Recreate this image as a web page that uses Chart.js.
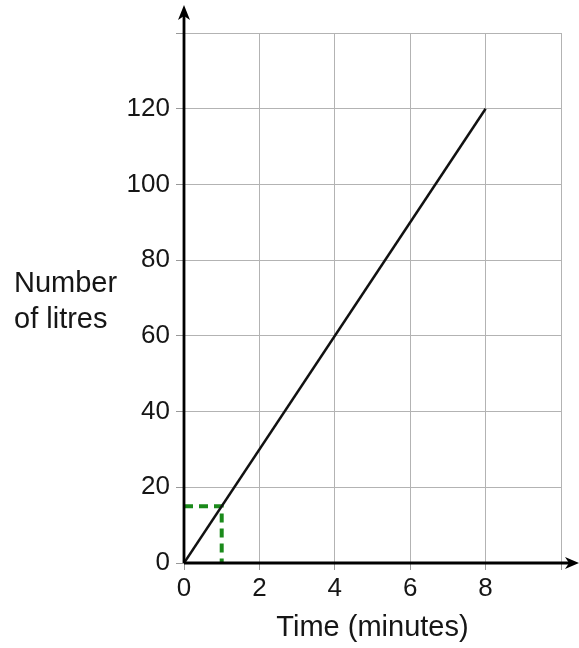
<!DOCTYPE html>
<html>
<head>
<meta charset="utf-8">
<script src="https://cdn.jsdelivr.net/npm/chart.js@4.4.0/dist/chart.umd.min.js"></script>
<style>
  html, body { margin: 0; padding: 0; background: #fff; }
  #wrap { width: 579px; height: 648px; }
</style>
</head>
<body>
<div id="wrap"><canvas id="chart" width="579" height="648"></canvas></div>
<script>
// dados
const timeMinutes = [0, 8];
const litres = [0, 120];
const guideX = [0, 1, 1];
const guideY = [15, 15, 0];

const xMax = 10;
const yMax = 140;
const fontFamily = "'Liberation Sans', Arial, sans-serif";
const tickFont = { family: fontFamily, size: 26 };
const titleFont = { family: fontFamily, size: 29 };
const textColor = '#161616';

const linePoints = timeMinutes.map((t, i) => ({ x: t, y: litres[i] }));
const guidePoints = guideX.map((g, i) => ({ x: g, y: guideY[i] }));

// setas dos eixos + titulo horizontal do eixo y
const axesPlugin = {
  id: 'axesPlugin',
  afterDraw(chart) {
    const ctx = chart.ctx;
    const a = chart.chartArea;
    ctx.save();
    ctx.strokeStyle = '#000';
    ctx.fillStyle = '#000';
    ctx.lineWidth = 2.8;
    // eixo y
    ctx.beginPath();
    ctx.moveTo(a.left, a.bottom);
    ctx.lineTo(a.left, 16);
    ctx.stroke();
    ctx.beginPath();
    ctx.moveTo(a.left, 5);
    ctx.lineTo(a.left - 6, 20);
    ctx.lineTo(a.left, 16);
    ctx.lineTo(a.left + 6, 20);
    ctx.closePath();
    ctx.fill();
    // eixo x
    ctx.beginPath();
    ctx.moveTo(a.left, a.bottom);
    ctx.lineTo(570, a.bottom);
    ctx.stroke();
    ctx.beginPath();
    ctx.moveTo(579, a.bottom);
    ctx.lineTo(565, a.bottom - 6);
    ctx.lineTo(569, a.bottom);
    ctx.lineTo(565, a.bottom + 6);
    ctx.closePath();
    ctx.fill();
    // titulo y
    ctx.font = titleFont.size + 'px ' + fontFamily;
    ctx.fillStyle = textColor;
    ctx.textAlign = 'left';
    ctx.textBaseline = 'middle';
    ctx.fillText('Number', 14, 284);
    ctx.fillText('of litres', 14, 320);
    ctx.restore();
  }
};

new Chart(document.getElementById('chart').getContext('2d'), {
  type: 'scatter',
  data: {
    datasets: [
      {
        label: 'Litres',
        data: linePoints,
        showLine: true,
        borderColor: '#111',
        borderWidth: 2.5,
        pointRadius: 0,
        tension: 0
      },
      {
        label: 'Guide',
        data: guidePoints,
        showLine: true,
        borderColor: '#1b8a1b',
        borderWidth: 4,
        borderDash: [9, 6],
        pointRadius: 0,
        tension: 0
      }
    ]
  },
  options: {
    responsive: false,
    animation: false,
    layout: { padding: { top: 33, right: 18, left: 0, bottom: 0 } },
    plugins: {
      legend: { display: false },
      tooltip: { enabled: false }
    },
    scales: {
      x: {
        type: 'linear',
        min: 0,
        max: xMax,
        afterFit: s => { s.height = 85; },
        ticks: {
          stepSize: 2,
          color: textColor,
          font: tickFont,
          padding: 3,
          maxRotation: 0,
          callback: v => (v < xMax ? v : '')
        },
        grid: { color: '#b3b3b3', lineWidth: 1, tickLength: 7, tickColor: '#999' },
        border: { display: false },
        title: {
          display: true,
          text: 'Time (minutes)',
          color: textColor,
          font: titleFont,
          padding: { top: 0, bottom: 3 }
        }
      },
      y: {
        min: 0,
        max: yMax,
        afterFit: s => { s.width = 184; },
        ticks: {
          stepSize: 20,
          color: textColor,
          font: tickFont,
          padding: 6,
          callback: v => (v < yMax ? v : '')
        },
        grid: { color: '#b3b3b3', lineWidth: 1, tickLength: 8, tickColor: '#999' },
        border: { display: false }
      }
    }
  },
  plugins: [axesPlugin]
});
</script>
</body>
</html>
